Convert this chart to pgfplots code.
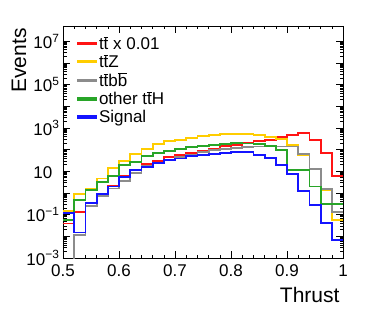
\documentclass[border=0pt]{standalone}
\usepackage{pgfplots}
\pgfplotsset{compat=1.18}
\usepackage{fontspec}
\setmainfont{Liberation Sans}
\newcommand\tb{\ensuremath{\overline{\mbox{t}}}}
\newcommand\bb{\ensuremath{\overline{\mbox{b}}}}
\definecolor{cred}{RGB}{255,20,20}
\definecolor{cyel}{RGB}{255,205,0}
\definecolor{cgry}{RGB}{140,140,140}
\definecolor{cgrn}{RGB}{40,165,40}
\definecolor{cblu}{RGB}{20,20,255}
\pgfplotsset{
  hist/.style={draw=#1, line width=1.8pt, const plot mark left, mark=none,
    legend image code/.code={\fill[#1] (0pt,-0.9pt) rectangle (18pt,0.9pt);}},
}

\pgfplotstableread{
x     r      y      g       n      b
0.50  0.039  0.15   1e-6    0.055  0.12
0.52  0.133  0.93   0.012   0.46   0.015
0.54  0.35   1.6    0.24    1.42   0.35
0.56  0.93   4.6    0.75    3.2    0.93
0.58  2.2    14.7   1.6     5.8    2.0
0.60  5.9    31     3.7     18.7   5.6
0.62  12     65     8.3     27     11
0.64  21.6   106    16.9    49     15.2
0.66  31     187    24      69.5   24
0.68  44     239    34      83     32
0.70  54     286    45      106    39
0.72  69.5   341    54      131    49
0.74  89     407    75      151    58
0.76  110    453    92      162    65
0.78  141    504    106     181    69.5
0.80  168    541    118     201    78
0.82  201    530    130     190    78
0.84  257    460    140     175    58
0.86  286    390    145     150    41
0.88  365    305    140     95     20
0.90  490    160    140     11     7.8
0.92  590    56     63      11     1.19
0.94  271    12.2   12.8    2.0    0.29
0.96  69     1.3    1.53    0.31   0.041
0.98  6.2    0.059  0.135   0.31   0.0066
1.00  6.2    0.059  0.135   0.31   0.0066
}\datatable

\begin{document}
\begin{tikzpicture}
\path[use as bounding box] (-63pt,-58pt) rectangle (311pt,258pt);
\begin{axis}[
  scale only axis, width=280pt, height=232pt,
  at={(0pt,0pt)}, anchor=south west,
  xmin=0.5, xmax=1, ymode=log, ymin=1e-3, ymax=5e7,
  xtick={0.5,0.6,0.7,0.8,0.9,1},
  xticklabels={0.5,0.6,0.7,0.8,0.9,1},
  minor x tick num=4,
  ytick={1e-3,1e-2,1e-1,1,1e1,1e2,1e3,1e4,1e5,1e6,1e7},
  yticklabels={10\textsuperscript{−3},{},10\textsuperscript{−1},{},10\phantom{\textsuperscript{1}},{},10\textsuperscript{3},{},10\textsuperscript{5},{},10\textsuperscript{7}},
  tick align=inside,
  major tick length=7pt, minor tick length=3.5pt,
  tick style={black, line width=0.6pt},
  axis line style={line width=0.8pt},
  ticklabel style={font=\fontsize{17}{20}\selectfont},
  xticklabel style={yshift=-3pt},
  xlabel={Thrust}, ylabel={Events},
  label style={font=\fontsize{21}{25}\selectfont},
  xlabel style={at={(axis description cs:1,0)}, anchor=base east, yshift=-44pt},
  ylabel style={at={(axis description cs:-0.132,1.005)}, anchor=base east},
  legend cell align=left,
  legend style={draw=none, fill=none, at={(axis description cs:0.05,0.965)}, anchor=north west,
    font=\fontsize{17}{20}\selectfont, inner sep=0pt, row sep=-0.4pt},
]
\addplot[hist=cred] table[x=x,y=r] {\datatable};
\addlegendentry{t\tb{} x 0.01}
\addplot[hist=cyel] table[x=x,y=y] {\datatable};
\addlegendentry{t\tb Z}
\addplot[hist=cgry] table[x=x,y=g] {\datatable};
\addlegendentry{t\tb b\bb}
\addplot[hist=cgrn] table[x=x,y=n] {\datatable};
\addlegendentry{other t\tb H}
\addplot[hist=cblu] table[x=x,y=b] {\datatable};
\addlegendentry{Signal}
\end{axis}
\end{tikzpicture}
\end{document}
